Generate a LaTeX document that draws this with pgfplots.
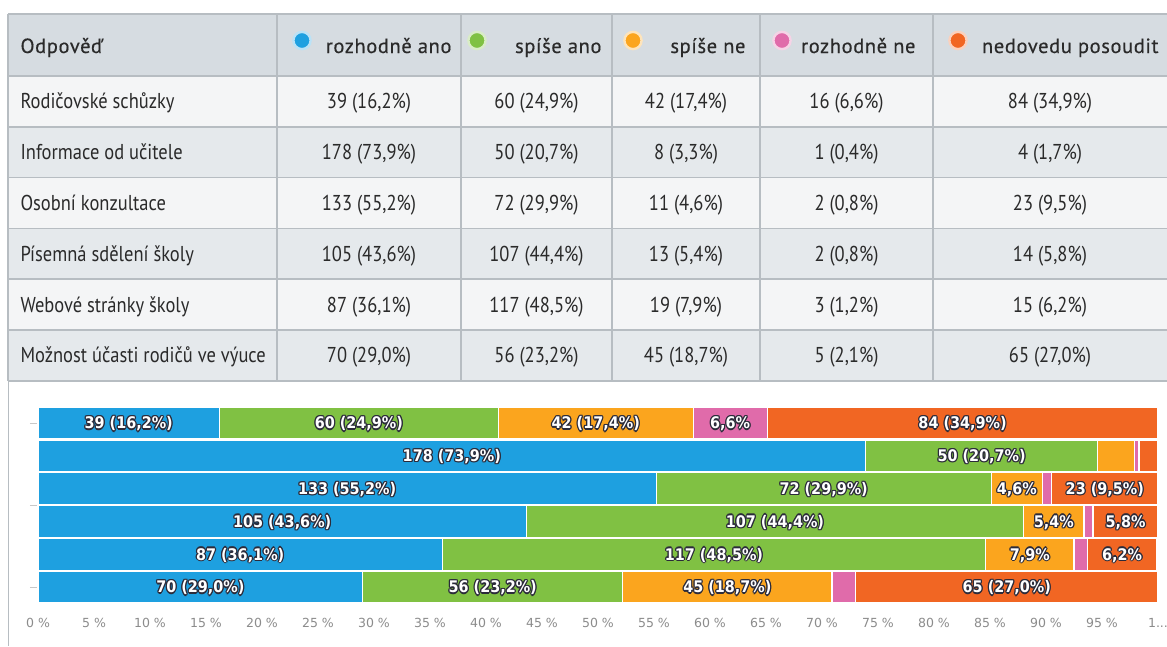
\documentclass[border=0pt]{standalone}
\usepackage{fontspec}
\setmainfont{PT Sans}
\newfontfamily\ZZbody{PT Sans}[FakeStretch=0.86]
\newfontfamily\ZZhdr{PT Sans}[LetterSpace=3.0, FakeBold=0.4]
\newfontfamily\ZZbar{DejaVu Sans Bold}[FakeStretch=0.9]
\newfontfamily\ZZtick{DejaVu Sans}
\usepackage{pgfplots}
\pgfplotsset{compat=1.18}
\usepackage{pgfplotstable}

\definecolor{cBlue}{HTML}{1EA0E0}
\definecolor{cGreen}{HTML}{80C143}
\definecolor{cOrange}{HTML}{FBA51E}
\definecolor{cPink}{HTML}{E06BAA}
\definecolor{cRed}{HTML}{F16623}
\definecolor{hdr}{HTML}{D6DCE1}
\definecolor{rowA}{HTML}{F4F5F6}
\definecolor{rowB}{HTML}{E5E9EC}
\definecolor{gridc}{HTML}{B7BDC2}
\definecolor{txt}{HTML}{2A2A2A}
\definecolor{olc}{HTML}{2B2B3A}
\definecolor{tickc}{HTML}{8C8C8C}
\definecolor{ytc}{HTML}{C8C8C8}

\newcommand\ZZcopy[3]{\rlap{\hspace*{#1}\raisebox{#2}{\color{olc}#3}}}
\newcommand\ZZlab[1]{{\ZZbar\fontsize{16}{18}\selectfont
  \ZZcopy{1.25pt}{0pt}{#1}\ZZcopy{-1.25pt}{0pt}{#1}\ZZcopy{0pt}{1.25pt}{#1}\ZZcopy{0pt}{-1.25pt}{#1}%
  \ZZcopy{0.9pt}{0.9pt}{#1}\ZZcopy{-0.9pt}{0.9pt}{#1}\ZZcopy{0.9pt}{-0.9pt}{#1}\ZZcopy{-0.9pt}{-0.9pt}{#1}%
  {\color{white}#1}}}

% bar label: #1 = percent position, #2 = row, #3 = text
\newcommand\ZZbl[3]{\node[anchor=base, inner sep=0pt] at ({38+11.2*#1},{423+32.8*#2+5.8}) {\ZZlab{#3}};}

\pgfplotstableread{
row a b c d e
0 16.2 24.9 17.4 6.6 34.9
1 73.9 20.7 3.3 0.4 1.7
2 55.2 29.9 4.6 0.8 9.5
3 43.6 44.4 5.4 0.8 5.8
4 36.1 48.5 7.9 1.2 6.2
5 29.0 23.2 18.7 2.1 27.0
}\ZZshares

\newcommand\ZZrow[7]{%
  \node[anchor=base west] at (17,#1+7.5) {#2};
  \node[anchor=base] at (369,#1+7.5) {#3};
  \node[anchor=base] at (536.5,#1+7.5) {#4};
  \node[anchor=base] at (686,#1+7.5) {#5};
  \node[anchor=base] at (846.5,#1+7.5) {#6};
  \node[anchor=base] at (1050,#1+7.5) {#7};
}

\begin{document}
\begin{tikzpicture}
\path[use as bounding box, fill=white] (0,0) rectangle (1167pt,-646pt);
\begin{scope}[x=1pt,y=-1pt]
  \fill[hdr] (8,14) rectangle (1167,76);
  \fill[rowA] (8,76) rectangle (1167,126.8);
  \fill[rowB] (8,126.8) rectangle (1167,177.6);
  \fill[rowA] (8,177.6) rectangle (1167,228.4);
  \fill[rowB] (8,228.4) rectangle (1167,279.2);
  \fill[rowA] (8,279.2) rectangle (1167,330);
  \fill[rowB] (8,330) rectangle (1167,380.8);
  \foreach \yy in {14,76,126.8,177.6,228.4,279.2,330}
    \draw[gridc, line width=1.6pt] (8,\yy) -- (1167,\yy);
  \draw[gridc, line width=2.6pt] (8,380.8) -- (1167,380.8);
  \foreach \xx in {8,277,461,612,760,933}
    \draw[gridc, line width=1.6pt] (\xx,14) -- (\xx,380.8);
  \draw[gridc, line width=1.6pt] (8.5,380.8) -- (8.5,646);
  \begin{scope}[font=\ZZhdr\fontsize{20.5}{24}\selectfont, text=txt]
    \node[anchor=base west] at (17,53) {Odpověď};
    \node[anchor=base east] at (455,53) {rozhodně ano};
    \node[anchor=base east] at (605,53) {spíše ano};
    \node[anchor=base east] at (749,53) {spíše ne};
    \node[anchor=base east] at (919,53) {rozhodně ne};
    \node[anchor=base east] at (1162,53) {nedovedu posoudit};
  \end{scope}
  \draw[line width=2.4pt, draw=cBlue!30!white, fill=cBlue] (302,40.5) circle (8.6pt);
  \draw[line width=2.4pt, draw=cGreen!30!white, fill=cGreen] (477,40.5) circle (8.6pt);
  \draw[line width=2.4pt, draw=cOrange!30!white, fill=cOrange] (633,40.5) circle (8.6pt);
  \draw[line width=2.4pt, draw=cPink!30!white, fill=cPink] (782,40.5) circle (8.6pt);
  \draw[line width=2.4pt, draw=cRed!30!white, fill=cRed] (958,40.5) circle (8.6pt);
  \begin{scope}[font=\ZZbody\fontsize{21.5}{24}\selectfont, text=txt]
    \ZZrow{101.4}{Rodičovské schůzky}{39 (16,2\%)}{60 (24,9\%)}{42 (17,4\%)}{16 (6,6\%)}{84 (34,9\%)}
    \ZZrow{152.2}{Informace od učitele}{178 (73,9\%)}{50 (20,7\%)}{8 (3,3\%)}{1 (0,4\%)}{4 (1,7\%)}
    \ZZrow{203}{Osobní konzultace}{133 (55,2\%)}{72 (29,9\%)}{11 (4,6\%)}{2 (0,8\%)}{23 (9,5\%)}
    \ZZrow{253.8}{Písemná sdělení školy}{105 (43,6\%)}{107 (44,4\%)}{13 (5,4\%)}{2 (0,8\%)}{14 (5,8\%)}
    \ZZrow{304.6}{Webové stránky školy}{87 (36,1\%)}{117 (48,5\%)}{19 (7,9\%)}{3 (1,2\%)}{15 (6,2\%)}
    \ZZrow{355.4}{Možnost účasti rodičů ve výuce}{70 (29,0\%)}{56 (23,2\%)}{45 (18,7\%)}{5 (2,1\%)}{65 (27,0\%)}
  \end{scope}
\end{scope}

\begin{axis}[
  at={(38pt,-406.6pt)}, anchor=north west,
  scale only axis, width=1120pt, height=196.8pt,
  xbar stacked, bar width=0.97,
  xmin=0, xmax=100, ymin=-0.5, ymax=5.5, y dir=reverse,
  axis x line*=bottom, axis y line*=left,
  axis line style={draw=none},
  tick align=outside, major tick length=8pt,
  ytick={0,2.5,5}, yticklabels={,,},
  ytick style={draw=ytc, line width=1pt},
  xtick={0,5,...,100},
  xticklabels={0 \%,5 \%,10 \%,15 \%,20 \%,25 \%,30 \%,35 \%,40 \%,45 \%,50 \%,55 \%,60 \%,65 \%,70 \%,75 \%,80 \%,85 \%,90 \%,95 \%,{1{.}{.}{.}}},
  xtick style={draw=none},
  xticklabel style={font=\ZZtick\fontsize{12.5}{14}\selectfont, text=tickc, yshift=-3pt},
  every axis plot/.append style={draw=white, line width=1.2pt},
  clip=false,
]
\addplot[fill=cBlue] table[x=a, y=row] {\ZZshares};
\addplot[fill=cGreen] table[x=b, y=row] {\ZZshares};
\addplot[fill=cOrange] table[x=c, y=row] {\ZZshares};
\addplot[fill=cPink] table[x=d, y=row] {\ZZshares};
\addplot[fill=cRed] table[x=e, y=row] {\ZZshares};
\end{axis}

\begin{scope}[x=1pt,y=-1pt]
\ZZbl{8.1}{0}{39 (16,2\%)}
\ZZbl{28.65}{0}{60 (24,9\%)}
\ZZbl{49.8}{0}{42 (17,4\%)}
\ZZbl{61.8}{0}{6,6\%}
\ZZbl{82.55}{0}{84 (34,9\%)}
\ZZbl{36.95}{1}{178 (73,9\%)}
\ZZbl{84.25}{1}{50 (20,7\%)}
\ZZbl{27.6}{2}{133 (55,2\%)}
\ZZbl{70.15}{2}{72 (29,9\%)}
\ZZbl{87.4}{2}{4,6\%}
\ZZbl{95.25}{2}{23 (9,5\%)}
\ZZbl{21.8}{3}{105 (43,6\%)}
\ZZbl{65.8}{3}{107 (44,4\%)}
\ZZbl{90.7}{3}{5,4\%}
\ZZbl{97.1}{3}{5,8\%}
\ZZbl{18.05}{4}{87 (36,1\%)}
\ZZbl{60.35}{4}{117 (48,5\%)}
\ZZbl{88.55}{4}{7,9\%}
\ZZbl{96.8}{4}{6,2\%}
\ZZbl{14.5}{5}{70 (29,0\%)}
\ZZbl{40.6}{5}{56 (23,2\%)}
\ZZbl{61.55}{5}{45 (18,7\%)}
\ZZbl{86.5}{5}{65 (27,0\%)}
\end{scope}
\end{tikzpicture}
\end{document}
